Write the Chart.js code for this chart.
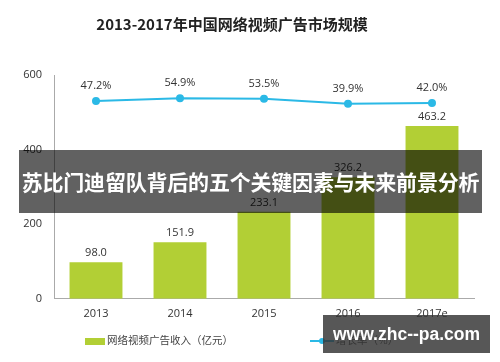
<!DOCTYPE html>
<html lang="zh">
<head>
    <meta charset="UTF-8">
    <title>2013-2017年中国网络视频广告市场规模</title>
    <style>
        *{
            margin:0;
            padding:0;
        }
        body{
            width: 500px;
            height: 362px;
            background: #fff;
            position: relative;
            overflow: hidden;
            font-family: "Noto Sans CJK SC", "Noto Sans", sans-serif;
        }
        .title{
            position: absolute;
            left: 0;
            width: 464px;
            top: 13px;
            text-align: center;
            font-size: 15px;
            font-weight: bold;
            color: #222;
        }
        .legend{
            position: absolute;
            top: 332px;
            height: 16px;
            font-size: 10.5px;
            color: #444;
            line-height: 16px;
            white-space: nowrap;
        }
        .legend.bar{ left: 85px; }
        .legend.line{ left: 310px; }
        .swatch{
            display: inline-block;
            vertical-align: middle;
            margin-right: 2px;
        }
        .bar .swatch{
            width: 20px;
            height: 7px;
            background: #b2cf35;
        }
        .line .swatch{
            width: 24px;
            height: 2px;
            background: #2bb9e6;
            position: relative;
        }
        .line .swatch::after{
            content: "";
            position: absolute;
            left: 9px;
            top: -2px;
            width: 6px;
            height: 6px;
            border-radius: 3px;
            background: #2bb9e6;
        }
        .banner{
            position: absolute;
            left: 19px;
            width: 463px;
            top: 150px;
            height: 63px;
            background: rgba(0,0,0,0.62);
            color: #fff;
            font-size: 21px;
            font-weight: bold;
            line-height: 63px;
            text-align: center;
            letter-spacing: -0.2px;
            white-space: nowrap;
        }
        .mark{
            position: absolute;
            left: 323px;
            width: 167px;
            top: 315px;
            height: 38px;
            background: rgba(50,50,50,0.82);
            color: #fff;
            font-family: "Liberation Sans", sans-serif;
            font-size: 17.5px;
            font-weight: bold;
            line-height: 38px;
            text-align: center;
            white-space: nowrap;
        }
        canvas{
            position: absolute;
            left: 0;
            top: 0;
        }
    </style>
</head>
<body>
    <canvas id="adChart" width="500" height="362"></canvas>
    <div class="title">2013-2017年中国网络视频广告市场规模</div>
    <div class="legend bar"><span class="swatch"></span><span id="barName"></span></div>
    <div class="legend line"><span class="swatch"></span><span id="lineName"></span></div>
    <div class="banner">苏比门迪留队背后的五个关键因素与未来前景分析</div>
    <div class="mark">www.zhc--pa.com</div>
    <script src="https://cdn.jsdelivr.net/npm/chart.js@4.4.0/dist/chart.umd.min.js"></script>
    <script>
        const years = ['2013', '2014', '2015', '2016', '2017e'];
        const revenue = [98.0, 151.9, 233.1, 326.2, 463.2];
        const growth = [47.2, 54.9, 53.5, 39.9, 42.0];
        const revenueLabel = '网络视频广告收入（亿元）';
        const growthLabel = '增长率（%）';

        document.getElementById('barName').textContent = revenueLabel;
        document.getElementById('lineName').textContent = growthLabel;

        const numFont = '"Open Sans", "Noto Sans", sans-serif';

        // value labels above bars and points
        const valueLabels = {
            id: 'valueLabels',
            afterDatasetsDraw(chart) {
                const ctx = chart.ctx;
                ctx.save();
                ctx.font = '11px ' + numFont;
                ctx.fillStyle = '#333';
                ctx.textAlign = 'center';
                ctx.textBaseline = 'middle';
                chart.getDatasetMeta(1).data.forEach((el, i) => {
                    ctx.fillText(revenue[i].toFixed(1), el.x, el.y - 9);
                });
                chart.getDatasetMeta(0).data.forEach((el, i) => {
                    ctx.fillText(growth[i].toFixed(1) + '%', el.x, el.y - 15);
                });
                ctx.restore();
            }
        };

        const ctx = document.getElementById('adChart').getContext('2d');
        new Chart(ctx, {
            type: 'bar',
            data: {
                labels: years,
                datasets: [{
                    type: 'line',
                    label: growthLabel,
                    data: growth,
                    yAxisID: 'y1',
                    borderColor: '#2bb9e6',
                    backgroundColor: '#2bb9e6',
                    borderWidth: 2,
                    pointRadius: 3,
                    pointBackgroundColor: '#2bb9e6',
                    tension: 0,
                    order: 0
                }, {
                    label: revenueLabel,
                    data: revenue,
                    yAxisID: 'y',
                    backgroundColor: '#b2cf35',
                    categoryPercentage: 0.7,
                    barPercentage: 0.9,
                    order: 1
                }]
            },
            options: {
                responsive: false,
                animation: false,
                layout: {
                    padding: {top: 75, right: 26, left: 0, bottom: 34}
                },
                scales: {
                    x: {
                        grid: {display: false, drawTicks: false},
                        border: {display: true, color: '#aaa', width: 1},
                        ticks: {color: '#333', font: {family: numFont, size: 11}, padding: 8}
                    },
                    y: {
                        min: 0,
                        max: 600,
                        afterFit(scale) { scale.width = 54; },
                        grid: {display: false, drawTicks: false},
                        border: {display: true, color: '#aaa', width: 1},
                        ticks: {stepSize: 200, color: '#333', font: {family: numFont, size: 11}, padding: 12}
                    },
                    y1: {
                        display: false,
                        min: -474,
                        max: 116
                    }
                },
                plugins: {
                    legend: {display: false},
                    title: {display: false},
                    tooltip: {enabled: false}
                }
            },
            plugins: [valueLabels]
        });
    </script>
</body>
</html>
